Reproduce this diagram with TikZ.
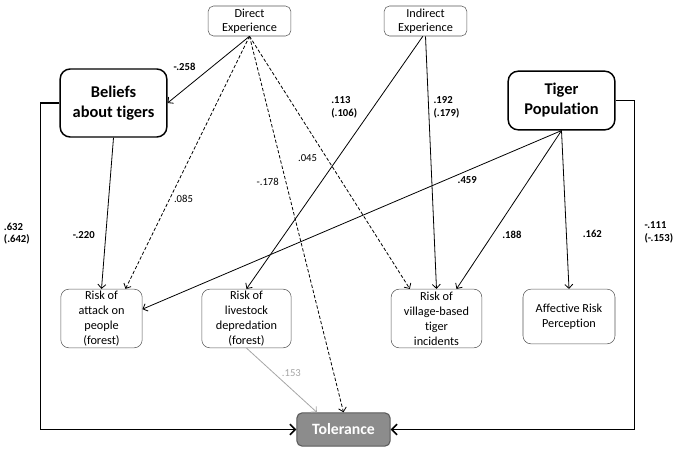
\documentclass[tikz,border=0pt]{standalone}
\usepackage{fontspec}
\setmainfont[Ligatures=NoCommon]{Carlito}
\usepackage{xcolor}
\usetikzlibrary{positioning, arrows.meta}
\definecolor{boxline}{HTML}{555555}
\definecolor{tolfill}{HTML}{8C8C8C}
\definecolor{tolline}{HTML}{5A5A5A}
\definecolor{faint}{HTML}{A6A6A6}
\tikzstyle{expbox} = [rectangle, rounded corners=4pt, minimum width=62pt, minimum height=22.5pt, inner sep=0pt, text centered, align=center, draw=boxline, font=\fontsize{9.2}{10.5}\selectfont]
\tikzstyle{mainbox} = [rectangle, rounded corners=7.5pt, minimum width=80pt, inner sep=0pt, text centered, align=center, draw=black, line width=1.1pt, font=\bfseries\fontsize{12.3}{15}\selectfont]
\tikzstyle{riskbox} = [rectangle, rounded corners=6pt, minimum height=44pt, inner sep=0pt, text centered, align=center, draw=boxline, font=\fontsize{9.2}{11.25}\selectfont]
\tikzstyle{outbox} = [rectangle, rounded corners=4pt, minimum width=70pt, minimum height=25pt, text centered, draw=tolline, line width=0.8pt, fill=tolfill, text=white, font=\bfseries\fontsize{11.8}{14}\selectfont]
\tikzstyle{arrow} = [->, >={Straight Barb[length=3pt,width=6pt]}, line width=0.6pt]
\tikzstyle{dasharrow} = [arrow, dash pattern=on 2.5pt off 1.5pt]
\tikzstyle{sidearrow} = [->, >={Straight Barb[length=4pt,width=8pt]}, line width=1.1pt]
\tikzstyle{coef} = [inner sep=0pt, align=left, font=\bfseries\fontsize{8}{9.5}\selectfont]
\tikzstyle{coefplain} = [inner sep=0pt, align=left, font=\fontsize{8}{9.5}\selectfont]

\begin{document}
\begin{tikzpicture}[x=0.75pt, y=-0.75pt, node distance=132pt]
    \useasboundingbox (0,0) rectangle (675,450);
    \node (direct) [expbox] at (249.5,21) {Direct\\Experience};
    \node (indirect) [expbox, right of=direct] {Indirect\\Experience};
    \node (beliefs) [mainbox, minimum height=51pt] at (113.5,103) {Beliefs\\about tigers};
    \node (tiger) [mainbox, minimum height=44pt] at (561.5,100.5) {Tiger\\Population};
    \node (attack) [riskbox, minimum width=61pt] at (101.5,318.5) {Risk of\\attack on\\people\\(forest)};
    \node (livestock) [riskbox, minimum width=67pt] at (246.5,318.5) {Risk of\\livestock\\depredation\\(forest)};
    \node (village) [riskbox, minimum width=68pt] at (436.5,318.5) {Risk of\\village-based\\tiger\\incidents};
    \node (affective) [riskbox, minimum width=69pt, minimum height=41pt] at (569,316.5) {Affective Risk\\Perception};
    \node (tolerance) [outbox] at (343.5,429.5) {Tolerance};

    \draw[arrow] (direct.south) -- node[coef, pos=0.46, left=12pt]{-.258} (beliefs.east);
    \draw[dasharrow] (direct.south) -- node[coefplain, pos=0.644, right=3pt]{.085} ([xshift=18pt]attack.north);
    \draw[dasharrow] (direct.south) -- node[coefplain, pos=0.387, left=5pt]{-.178} (tolerance.north);
    \draw[dasharrow] (direct.south) -- node[coefplain, pos=0.482, left=7pt]{.045} ([xshift=-20pt]village.north);
    \draw[arrow] ([xshift=-2pt]indirect.south) -- node[coef, pos=0.28, left=12pt]{.113\\(.106)} (livestock.north);
    \draw[arrow] (indirect.south) -- node[coef, pos=0.28, right=3.5pt]{.192\\(.179)} (village.north);
    \draw[arrow] (beliefs.south) -- node[coef, pos=0.645, left=8pt]{-.220} (attack.north);
    \draw[arrow] (tiger.south) -- node[coef, pos=0.225, below=4pt]{.459} ([yshift=7pt]attack.east);
    \draw[arrow] (tiger.south) -- node[coef, pos=0.656, right=7pt]{.188} ([xshift=15pt]village.north);
    \draw[arrow] (tiger.south) -- node[coef, pos=0.65, right=12pt]{.162} (affective.north);
    \draw[arrow, draw=faint] (livestock.south) -- node[coefplain, text=faint, pos=0.385, right=6pt]{.153} ([xshift=-20pt]tolerance.north);
    \draw[sidearrow] (beliefs.west) -- ++(-19,0) |- node[coef, pos=0.2, left=7.5pt]{.632\\(.642)} (tolerance.west);
    \draw[sidearrow] (tiger.east) -- ++(19,0) |- node[coef, pos=0.2, right=7pt]{-.111\\(-.153)} (tolerance.east);
\end{tikzpicture}
\end{document}
